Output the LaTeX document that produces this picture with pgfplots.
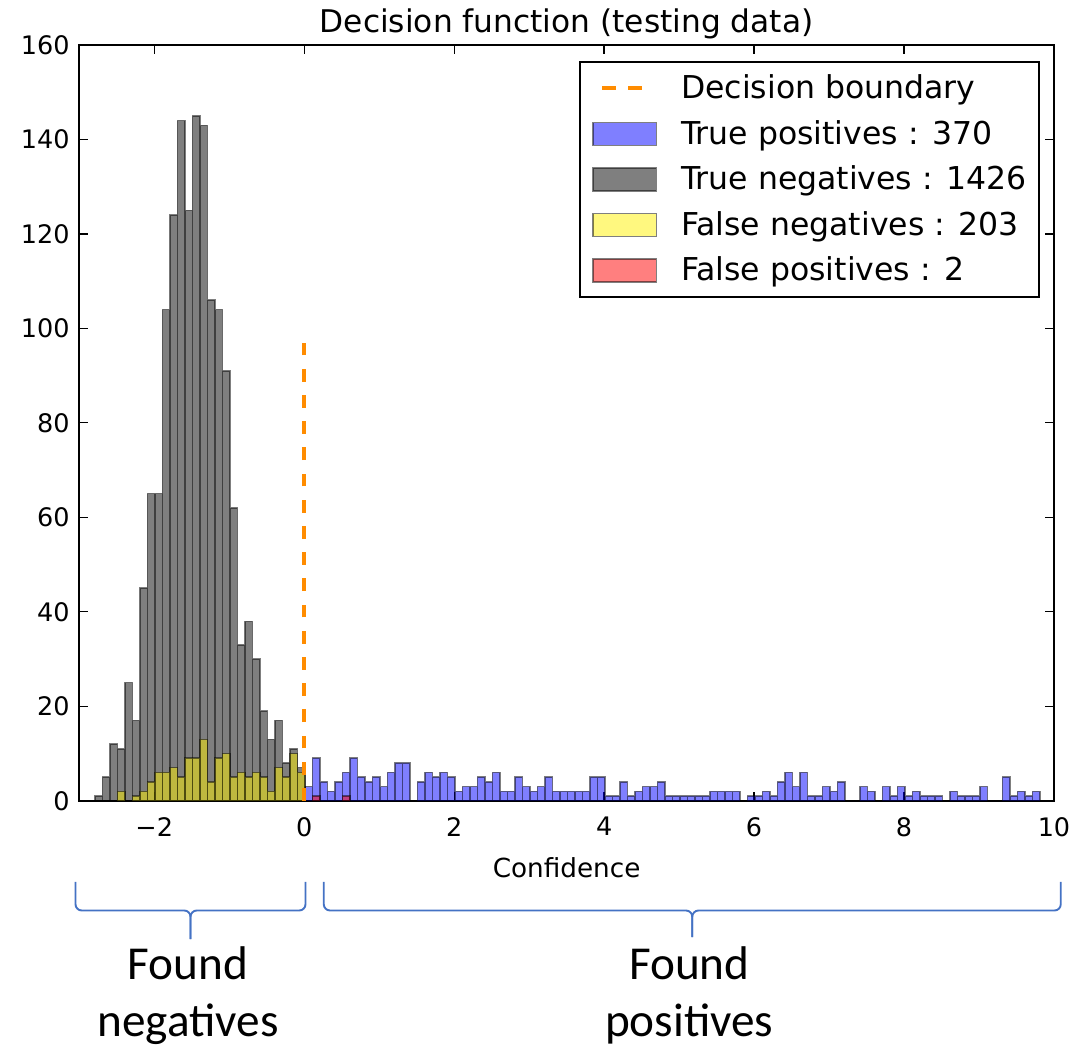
\documentclass[border=0pt]{standalone}
\usepackage{pgfplots}
\pgfplotsset{compat=1.18}
\usepackage{pgfplotstable}
\usepackage{fontspec}
\setmainfont{DejaVu Sans}
\newfontfamily\carlito{Carlito}
\definecolor{darkorange}{RGB}{255,140,0}
\definecolor{braceblue}{RGB}{68,114,196}

\pgfplotstableread{
x y
-2.74 1
-2.64 5
-2.54 12
-2.44 11
-2.34 25
-2.24 17
-2.14 45
-2.04 65
-1.94 65
-1.84 104
-1.74 124
-1.64 144
-1.54 125
-1.44 145
-1.34 143
-1.24 106
-1.14 104
-1.04 91
-0.94 62
-0.84 33
-0.74 38
-0.64 30
-0.54 19
-0.44 13
-0.34 17
-0.24 8
-0.14 11
-0.04 7
}\truenegatives

\pgfplotstableread{
x y
-2.44 2
-2.24 1
-2.14 2
-2.04 4
-1.94 6
-1.84 6
-1.74 7
-1.64 5
-1.54 9
-1.44 9
-1.34 13
-1.24 4
-1.14 9
-1.04 10
-0.94 5
-0.84 6
-0.74 5
-0.64 6
-0.54 5
-0.44 2
-0.34 7
-0.24 5
-0.14 10
-0.04 6
}\falsenegatives

\pgfplotstableread{
x y
0.06 3
0.16 9
0.26 4
0.36 2
0.46 4
0.56 6
0.66 9
0.76 5
0.86 4
0.96 5
1.06 3
1.16 6
1.26 8
1.36 8
1.56 4
1.66 6
1.76 5
1.86 6
1.96 5
2.06 2
2.16 3
2.26 3
2.36 5
2.46 4
2.56 6
2.66 2
2.76 2
2.86 5
2.96 3
3.06 2
3.16 3
3.26 5
3.36 2
3.46 2
3.56 2
3.66 2
3.76 2
3.86 5
3.96 5
4.06 1
4.16 1
4.26 4
4.36 1
4.46 2
4.56 3
4.66 3
4.76 4
4.86 1
4.96 1
5.06 1
5.16 1
5.26 1
5.36 1
5.46 2
5.56 2
5.66 2
5.76 2
5.96 1
6.06 1
6.16 2
6.26 1
6.36 4
6.46 6
6.56 3
6.66 6
6.76 1
6.86 1
6.96 3
7.06 2
7.16 4
7.46 3
7.56 2
7.76 3
7.86 1
7.96 3
8.06 1
8.16 2
8.26 1
8.36 1
8.46 1
8.66 2
8.76 1
8.86 1
8.96 1
9.06 3
9.36 5
9.46 1
9.56 2
9.66 1
9.76 2
}\truepositives

\pgfplotstableread{
x y
0.16 1
0.56 1
}\falsepositives

\begin{document}
\begin{tikzpicture}
\begin{axis}[
  scale only axis, width=389.9pt, height=302.3pt,
  xmin=-3, xmax=10, ymin=0, ymax=160,
  xtick={-2,0,2,4,6,8,10},
  xticklabels={−2,0,2,4,6,8,10},
  ytick={0,20,...,160},
  /pgf/number format/assume math mode=true,
  tick align=inside,
  major tick length=3.6pt,
  every tick/.style={black, line width=0.5pt},
  axis line style={line width=0.8pt},
  tick label style={font=\fontsize{10.2}{12}\selectfont},
  xticklabel style={inner sep=0pt, yshift=-6.4pt},
  yticklabel style={inner sep=0pt, xshift=-3.7pt},
  title={Decision function (testing data)},
  title style={font=\fontsize{12.5}{15}\selectfont, at={(0.5,1)}, anchor=base, yshift=-1.2pt},
  xlabel={Confidence},
  xlabel style={font=\fontsize{10.5}{12}\selectfont, at={(axis description cs:0.5,0)}, anchor=base, yshift=-30.7pt},
  legend cell align=left,
  legend style={at={(0.9856,0.9788)}, anchor=north east, draw=black, line width=0.8pt, fill=white,
    inner xsep=5pt, inner ysep=5pt, row sep=7.15pt,
    font=\fontsize{12.6}{15}\selectfont, nodes={inner sep=0pt},
    /tikz/every odd column/.append style={column sep=9.6pt}},
  histbar/.style={ybar, bar width=0.1, bar shift=0pt, draw=black, draw opacity=0.5, fill opacity=0.5, line width=0.6pt,
    legend image code/.code={\draw[##1] (0pt,-4.55pt) rectangle (25.3pt,4.55pt);}},
]
\addlegendimage{legend image code/.code={\path[draw=none, fill=none] (0pt,-4.55pt) rectangle (25.3pt,4.55pt); \draw[darkorange, line width=1.6pt, dash pattern=on 5.6pt off 4.8pt] (3.7pt,0pt) -- (19.7pt,0pt);}}
\addlegendentry{Decision boundary}
\addplot[histbar, fill=blue] table[x=x, y=y] {\truepositives};
\addlegendentry{True positives : 370}
\addplot[histbar, fill=black] table[x=x, y=y] {\truenegatives};
\addlegendentry{True negatives : 1426}
\addplot[histbar, fill=yellow] table[x=x, y=y] {\falsenegatives};
\addlegendentry{False negatives : 203}
\addplot[histbar, fill=red] table[x=x, y=y] {\falsepositives};
\addlegendentry{False positives : 2}
\addplot[darkorange, line width=1.6pt, dash pattern=on 5.08pt off 5.4pt, forget plot] coordinates {(0,0) (0,97)};
\end{axis}
% braces and annotations
\draw[braceblue, line width=0.75pt, rounded corners=2.5pt] (-1.5pt,-32.4pt) -- (-1.5pt,-43.9pt) -- (44.5pt,-43.9pt) -- (44.5pt,-55.3pt);
\draw[braceblue, line width=0.75pt, rounded corners=2.5pt] (90.5pt,-32.4pt) -- (90.5pt,-43.9pt) -- (44.5pt,-43.9pt) -- (44.5pt,-55.3pt);
\draw[braceblue, line width=0.75pt, rounded corners=2.5pt] (97.8pt,-32.4pt) -- (97.8pt,-43.9pt) -- (245.2pt,-43.9pt) -- (245.2pt,-54.5pt);
\draw[braceblue, line width=0.75pt, rounded corners=2.5pt] (392.6pt,-32.4pt) -- (392.6pt,-43.9pt) -- (245.2pt,-43.9pt) -- (245.2pt,-54.5pt);
\node[anchor=base, inner sep=0pt, font=\carlito\fontsize{18.9}{22}\selectfont] at (43.5pt,-71.4pt) {Found};
\node[anchor=base, inner sep=0pt, font=\carlito\fontsize{18.9}{22}\selectfont] at (43.5pt,-94.1pt) {negatives};
\node[anchor=base, inner sep=0pt, font=\carlito\fontsize{18.9}{22}\selectfont] at (244pt,-71.4pt) {Found};
\node[anchor=base, inner sep=0pt, font=\carlito\fontsize{18.9}{22}\selectfont] at (244pt,-94.1pt) {positives};
\pgfresetboundingbox
\useasboundingbox (-31.7pt,-97.7pt) rectangle (405.1pt,320.3pt);
\end{tikzpicture}
\end{document}
